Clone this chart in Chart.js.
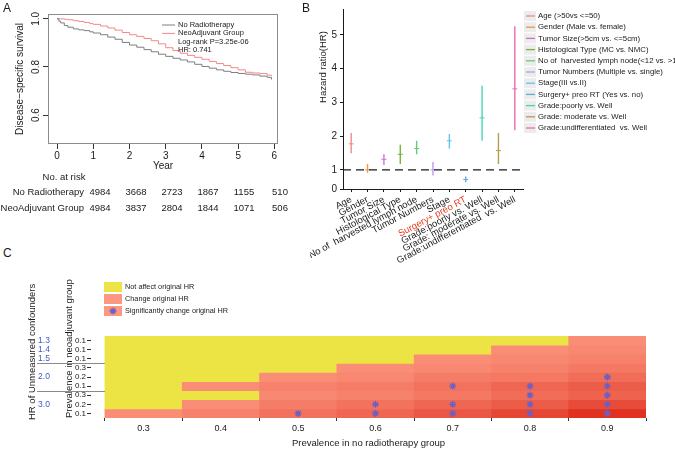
<!DOCTYPE html>
<html>
<head>
<meta charset="utf-8">
<script src="https://cdn.jsdelivr.net/npm/chart.js@4.4.1/dist/chart.umd.min.js"></script>
<style>
  body { margin: 0; background: #fff; font-family: "Liberation Sans", Arial, sans-serif; }
  #fig { position: relative; width: 675px; height: 450px; overflow: hidden; }
  canvas { position: absolute; }
  .t { position: absolute; white-space: nowrap; line-height: 1; color: #1a1a1a; }
</style>
</head>
<body>
<div id="fig">
  <canvas id="km" width="300" height="174" style="left:0;top:0"></canvas>
  <canvas id="hr" width="365" height="270" style="left:310px;top:0"></canvas>
  <canvas id="heat" width="675" height="180" style="left:0;top:270px"></canvas>
</div>
<script>
// ---- A: survival curves
const kmYears = [0, 0.05, 0.1, 0.2, 0.3, 0.45, 0.6, 0.75, 0.9, 1.0, 1.2, 1.4, 1.6, 1.8, 2.0, 2.2, 2.4, 2.6, 2.8, 3.0, 3.2, 3.4, 3.6, 3.8, 4.0, 4.2, 4.4, 4.6, 4.8, 5.0, 5.2, 5.4, 5.6, 5.8, 5.92];
const survNoRT = [1.000, 0.990, 0.983, 0.972, 0.965, 0.958, 0.954, 0.951, 0.946, 0.941, 0.934, 0.924, 0.915, 0.902, 0.891, 0.882, 0.872, 0.863, 0.853, 0.844, 0.836, 0.829, 0.821, 0.811, 0.802, 0.795, 0.788, 0.782, 0.777, 0.773, 0.770, 0.767, 0.762, 0.757, 0.748];
const survNeo = [1.000, 1.000, 1.000, 0.998, 0.996, 0.992, 0.989, 0.985, 0.980, 0.977, 0.970, 0.962, 0.953, 0.943, 0.934, 0.927, 0.918, 0.909, 0.896, 0.880, 0.868, 0.857, 0.848, 0.840, 0.832, 0.823, 0.814, 0.806, 0.797, 0.788, 0.778, 0.775, 0.773, 0.766, 0.763];
const kmGroups = ['No Radiotherapy', 'NeoAdjuvant Group'];
const kmNotes = ['Log-rank P=3.25e-06', 'HR: 0.741'];
const kmXTicks = [0, 1, 2, 3, 4, 5, 6];
const kmYTicks = [0.6, 0.8, 1.0];
const riskNoRT = [4984, 3668, 2723, 1867, 1155, 510];
const riskNeo = [4984, 3837, 2804, 1844, 1071, 506];

// ---- B: hazard ratios
const hrCategories = ['Age', 'Gender', 'Tumor Size', 'Histological Type', 'No of  harvested lymph node', 'Tumor Numbers', 'Stage', 'Surgery+ preo RT', 'Grade:poorly vs. Well', 'Grade: moderate vs. Well', 'Grade:undifferentiated  vs. Well'];
const hrLegend = ['Age (>50vs <=50)', 'Gender (Male vs. female)', 'Tumor Size(>5cm vs. <=5cm)', 'Histological Type (MC vs. NMC)', 'No of  harvested lymph node(<12 vs. >12)', 'Tumor Numbers (Multiple vs. single)', 'Stage(III vs.II)', 'Surgery+ preo RT (Yes vs. no)', 'Grade:poorly vs. Well', 'Grade: moderate vs. Well', 'Grade:undifferentiated  vs. Well'];
const hrValue = [1.77, 1.00, 1.31, 1.46, 1.63, 1.00, 1.86, 0.71, 2.54, 1.57, 3.40];
const hrLower = [1.49, 0.91, 1.14, 1.17, 1.46, 0.83, 1.63, 0.63, 1.86, 1.17, 2.17];
const hrUpper = [2.09, 1.17, 1.46, 1.74, 1.86, 1.23, 2.06, 0.80, 3.49, 2.09, 5.26];
const hrYTicks = [0.43, 1, 2, 3, 4, 5];
const hrColors = ['#f28a86', '#e49a48', '#d46fd8', '#74b53a', '#68c97c', '#b99bef', '#62c4e6', '#6aa6e0', '#45d6b6', '#b39d52', '#f06aae'];

// ---- C: sensitivity heatmap
const prevNoRT = [0.3, 0.4, 0.5, 0.6, 0.7, 0.8, 0.9];
const rowPrevNeo = ['0.1', '0.1', '0.1', '0.3', '0.2', '0.1', '0.3', '0.2', '0.1']; // top to bottom
const rowHR = ['1.3', '1.4', '1.5', '2.0', '2.0', '2.0', '3.0', '3.0', '3.0'];
// null = does not affect original HR, otherwise how strongly it changes (0..1)
const cellShade = [
  [null, null, null, null, null, null, 0.10],
  [null, null, null, null, null, 0.10, 0.15],
  [null, null, null, null, 0.10, 0.15, 0.20],
  [null, null, null, 0.10, 0.15, 0.20, 0.30],
  [null, null, 0.10, 0.15, 0.25, 0.30, 0.40],
  [null, 0.10, 0.20, 0.25, 0.35, 0.45, 0.55],
  [null, null, 0.15, 0.20, 0.30, 0.40, 0.50],
  [null, 0.10, 0.25, 0.35, 0.45, 0.55, 0.70],
  [0.10, 0.20, 0.35, 0.45, 0.60, 0.75, 0.95]
];
const starPrev = [0.5, 0.6, 0.6, 0.7, 0.7, 0.7, 0.8, 0.8, 0.8, 0.8, 0.9, 0.9, 0.9, 0.9, 0.9];
const starRow = [8, 7, 8, 5, 7, 8, 5, 6, 7, 8, 4, 5, 6, 7, 8];
const heatLegend = ['Not affect original HR', 'Change original HR', 'Significantly change original HR'];

const FONT = '"Liberation Sans", Arial, sans-serif';
Chart.defaults.font.family = FONT;
Chart.defaults.color = '#1a1a1a';
Chart.defaults.animation = false;

const fig = document.getElementById('fig');
function addText(txt, x, y, size, align, color) {
  const d = document.createElement('div');
  d.className = 't';
  d.textContent = txt;
  d.style.fontSize = size + 'px';
  d.style.left = x + 'px';
  d.style.top = y + 'px';
  if (color) d.style.color = color;
  const tx = align === 'center' ? '-50%' : align === 'right' ? '-100%' : '0';
  d.style.transform = 'translate(' + tx + ',-50%)';
  fig.appendChild(d);
}
addText('A', 3, 8, 12);
addText('B', 302, 8, 12);
addText('C', 3, 253, 12);

// number at risk table
addText('No. at risk', 64, 177, 9.5, 'center');
[riskNoRT, riskNeo].forEach((row, r) => {
  addText(kmGroups[r], 84, 192 + r * 16, 9.5, 'right');
  row.forEach((n, i) => addText(String(n), 100 + i * 36, 192 + r * 16, 9.5, 'center'));
});

// Panel A
const kmExtras = {
  id: 'kmExtras',
  afterDraw(chart) {
    const { ctx, chartArea: a, scales: { y } } = chart;
    ctx.save();
    ctx.strokeStyle = '#8c8c8c';
    ctx.lineWidth = 1;
    ctx.strokeRect(a.left + 0.5, a.top + 0.5, a.width - 1, a.height - 1);
    // y labels stand on their side, like R does it
    ctx.fillStyle = '#1a1a1a';
    ctx.font = '10px ' + FONT;
    ctx.textAlign = 'center';
    ctx.textBaseline = 'middle';
    y.ticks.forEach(t => {
      ctx.save();
      ctx.translate(a.left - 12, y.getPixelForValue(t.value));
      ctx.rotate(-Math.PI / 2);
      ctx.fillText(t.value.toFixed(1), 0, 0);
      ctx.restore();
    });
    // legend
    ctx.font = '7.5px ' + FONT;
    ctx.textAlign = 'left';
    chart.data.datasets.forEach((ds, i) => {
      const yy = 25 + i * 8.4;
      ctx.strokeStyle = ds.borderColor;
      ctx.beginPath();
      ctx.moveTo(162, yy); ctx.lineTo(175, yy);
      ctx.stroke();
      ctx.fillText(ds.label, 178, yy);
    });
    kmNotes.forEach((n, i) => ctx.fillText(n, 178, 25 + (i + 2) * 8.4));
    ctx.restore();
  }
};

new Chart(document.getElementById('km'), {
  type: 'line',
  data: {
    datasets: [
      { label: kmGroups[0], data: kmYears.map((t, i) => ({ x: t, y: survNoRT[i] })), borderColor: '#7f7f7f', borderWidth: 1, pointRadius: 0, stepped: 'before' },
      { label: kmGroups[1], data: kmYears.map((t, i) => ({ x: t, y: survNeo[i] })), borderColor: '#f28a86', borderWidth: 1, pointRadius: 0, stepped: 'before' }
    ]
  },
  options: {
    responsive: false,
    layout: { padding: { left: 10, right: 22, top: 14, bottom: 0 } },
    plugins: { legend: { display: false }, tooltip: { enabled: false } },
    scales: {
      x: {
        type: 'linear', min: -0.25, max: 6.1,
        afterBuildTicks: s => { s.ticks = kmXTicks.map(v => ({ value: v })); },
        grid: { drawOnChartArea: false, tickLength: 5, color: '#333' },
        border: { display: false },
        ticks: { font: { size: 10 }, padding: 1 },
        title: { display: true, text: 'Year', font: { size: 10 }, padding: { top: 0, bottom: 2 } },
        afterFit: s => { s.height = 30; }
      },
      y: {
        min: 0.48, max: 1.02,
        afterBuildTicks: s => { s.ticks = kmYTicks.map(v => ({ value: v })); },
        grid: { drawOnChartArea: false, tickLength: 5, color: '#333' },
        border: { display: false },
        ticks: { display: false },
        title: { display: true, text: 'Disease\u2212specific survival', font: { size: 10 } },
        afterFit: s => { s.width = 38; }
      }
    }
  },
  plugins: [kmExtras]
});

// Panel B
const hrExtras = {
  id: 'hrExtras',
  afterDatasetsDraw(chart) {
    const { ctx, chartArea: a, scales: { y } } = chart;
    const py = y.getPixelForValue(1);
    ctx.save();
    ctx.strokeStyle = '#1a1a1a';
    ctx.lineWidth = 1.3;
    ctx.setLineDash([8, 5]);
    ctx.beginPath();
    ctx.moveTo(a.left, py); ctx.lineTo(a.right, py);
    ctx.stroke();
    ctx.restore();
  },
  afterDraw(chart) {
    const { ctx } = chart;
    ctx.save();
    ctx.fillStyle = '#1a1a1a';
    ctx.font = '9.5px ' + FONT;
    ctx.textAlign = 'center';
    ctx.textBaseline = 'middle';
    ctx.translate(13, 67);
    ctx.rotate(-Math.PI / 2);
    ctx.fillText('Hazard ratio(HR)', 0, 0);
    ctx.restore();
    // legend
    ctx.save();
    ctx.font = '7.8px ' + FONT;
    ctx.textBaseline = 'middle';
    hrLegend.forEach((lab, i) => {
      const yy = 16 + i * 11.2;
      ctx.fillStyle = '#ececec';
      ctx.fillRect(214, yy - 5, 12, 10);
      ctx.strokeStyle = hrColors[i];
      ctx.lineWidth = 1.3;
      ctx.beginPath();
      ctx.moveTo(216, yy); ctx.lineTo(225, yy);
      ctx.stroke();
      ctx.fillStyle = '#1a1a1a';
      ctx.fillText(lab, 228, yy);
    });
    ctx.restore();
  }
};

new Chart(document.getElementById('hr'), {
  type: 'bar',
  data: {
    labels: hrCategories,
    datasets: [
      { type: 'bar', data: hrLower.map((lo, i) => [lo, hrUpper[i]]), backgroundColor: hrColors, barThickness: 1.4, inflateAmount: 0, order: 1 },
      { type: 'line', data: hrValue, showLine: false, pointStyle: 'line', pointRadius: 2.5, pointBorderWidth: 1, pointBorderColor: hrColors, borderColor: hrColors, order: 0 }
    ]
  },
  options: {
    responsive: false,
    layout: { padding: { left: 0, right: 152, top: 3, bottom: 0 } },
    plugins: { legend: { display: false }, tooltip: { enabled: false } },
    scales: {
      x: {
        grid: { drawOnChartArea: false, tickLength: 3, color: '#1a1a1a', offset: false },
        border: { color: '#1a1a1a' },
        ticks: {
          autoSkip: false, minRotation: 28, maxRotation: 28, padding: 2,
          font: { size: 9.5 },
          color: c => c.index === 7 ? '#e8391d' : '#1a1a1a'
        },
        afterFit: s => { s.height = 81; }
      },
      y: {
        min: 0.43, max: 5.77,
        afterBuildTicks: s => { s.ticks = hrYTicks.map(v => ({ value: v })); },
        grid: { drawOnChartArea: false, tickLength: 3, color: '#1a1a1a' },
        border: { color: '#1a1a1a' },
        ticks: { font: { size: 10 }, padding: 3, callback: v => v < 1 ? '0' : String(v) },
        afterFit: s => { s.width = 33; }
      }
    }
  },
  plugins: [hrExtras]
});

// Panel C
const lightRGB = [253, 152, 128];
const darkRGB = [222, 44, 28];
function shadeColor(v) {
  if (v === null) return '#ece444';
  const c = lightRGB.map((l, i) => Math.round(l + (darkRGB[i] - l) * v));
  return 'rgb(' + c.join(',') + ')';
}

const heatExtras = {
  id: 'heatExtras',
  afterDraw(chart) {
    const { ctx, chartArea: a, scales: { x, y } } = chart;
    const tileLeft = x.getPixelForValue(prevNoRT[0] - 0.05);
    ctx.save();
    // HR groups on the far left
    const groups = [];
    rowHR.forEach((h, r) => {
      const g = groups[groups.length - 1];
      if (g && g.hr === h) g.rows.push(r); else groups.push({ hr: h, rows: [r] });
    });
    ctx.font = '8.5px ' + FONT;
    ctx.textAlign = 'center';
    ctx.textBaseline = 'middle';
    groups.forEach((g, gi) => {
      const mid = g.rows.reduce((s, r) => s + (8.5 - r), 0) / g.rows.length;
      ctx.fillStyle = '#3d5bc4';
      ctx.fillText(g.hr, 44, y.getPixelForValue(mid));
      if (gi > 0 && (g.rows.length > 1 || groups[gi - 1].rows.length > 1)) {
        const yy = Math.round(y.getPixelForValue(9 - g.rows[0])) + 0.5;
        ctx.strokeStyle = '#8a8a8a';
        ctx.lineWidth = 1;
        ctx.beginPath();
        ctx.moveTo(37, yy); ctx.lineTo(tileLeft, yy);
        ctx.stroke();
      }
    });
    // outer axis title
    ctx.fillStyle = '#1a1a1a';
    ctx.font = '9.5px ' + FONT;
    ctx.textAlign = 'left';
    ctx.save();
    ctx.translate(32, a.bottom + 2);
    ctx.rotate(-Math.PI / 2);
    ctx.fillText('HR of Unmeasured confounders', 0, 0);
    ctx.restore();
    // legend
    ctx.font = '7.3px ' + FONT;
    const swatch = [shadeColor(null), shadeColor(0), shadeColor(0)];
    heatLegend.forEach((lab, i) => {
      const yy = 17 + i * 12;
      ctx.fillStyle = swatch[i];
      ctx.fillRect(104, yy - 5, 18, 10);
      if (i === 2) {
        ctx.strokeStyle = '#6b5fc7';
        ctx.lineWidth = 1.3;
        Chart.helpers.drawPoint(ctx, { pointStyle: 'star', radius: 3.5, rotation: 0, borderWidth: 1.3 }, 113, yy);
      }
      ctx.fillStyle = '#1a1a1a';
      ctx.fillText(lab, 125, yy);
    });
    ctx.restore();
  }
};

const heatDatasets = rowPrevNeo.map((_, r) => ({
  type: 'bar',
  data: prevNoRT.map(p => ({ x: p, y: [8 - r, 9 - r] })),
  backgroundColor: prevNoRT.map((p, c) => shadeColor(cellShade[r][c])),
  grouped: false, barPercentage: 1, categoryPercentage: 1, borderWidth: 0, order: 1
}));
heatDatasets.push({
  type: 'scatter',
  data: starPrev.map((p, i) => ({ x: p, y: 8.5 - starRow[i] })),
  pointStyle: 'star', pointRadius: 3.5, borderColor: '#6b5fc7', pointBorderWidth: 1.3, order: 0
});

new Chart(document.getElementById('heat'), {
  type: 'bar',
  data: { datasets: heatDatasets },
  options: {
    responsive: false,
    layout: { padding: { left: 60, right: 29, top: 66, bottom: 0 } },
    plugins: { legend: { display: false }, tooltip: { enabled: false } },
    scales: {
      x: {
        type: 'linear', min: 0.232, max: 0.95, offset: false,
        afterBuildTicks: s => { s.ticks = prevNoRT.map(v => ({ value: v })); },
        grid: { drawOnChartArea: false, tickLength: 3, color: '#333' },
        border: { display: false },
        ticks: { font: { size: 9 }, padding: 2, autoSkip: false, callback: v => v.toFixed(1) },
        title: { display: true, text: 'Prevalence in no radiotherapy group', font: { size: 9.5 }, padding: { top: 0, bottom: 1 } },
        afterFit: s => { s.height = 32; }
      },
      y: {
        min: 0, max: 9,
        afterBuildTicks: s => { s.ticks = rowPrevNeo.map((_, r) => ({ value: 8.5 - r })); },
        grid: { drawOnChartArea: false, tickLength: 4, color: '#333' },
        border: { display: false },
        ticks: { font: { size: 8 }, padding: 1, autoSkip: false, callback: v => rowPrevNeo[Math.round(8.5 - v)] },
        title: { display: true, text: 'Prevalence in neoadjuvant group', align: 'start', font: { size: 9.5 } },
        afterFit: s => { s.width = 31; }
      }
    }
  },
  plugins: [heatExtras]
});
</script>
</body>
</html>
